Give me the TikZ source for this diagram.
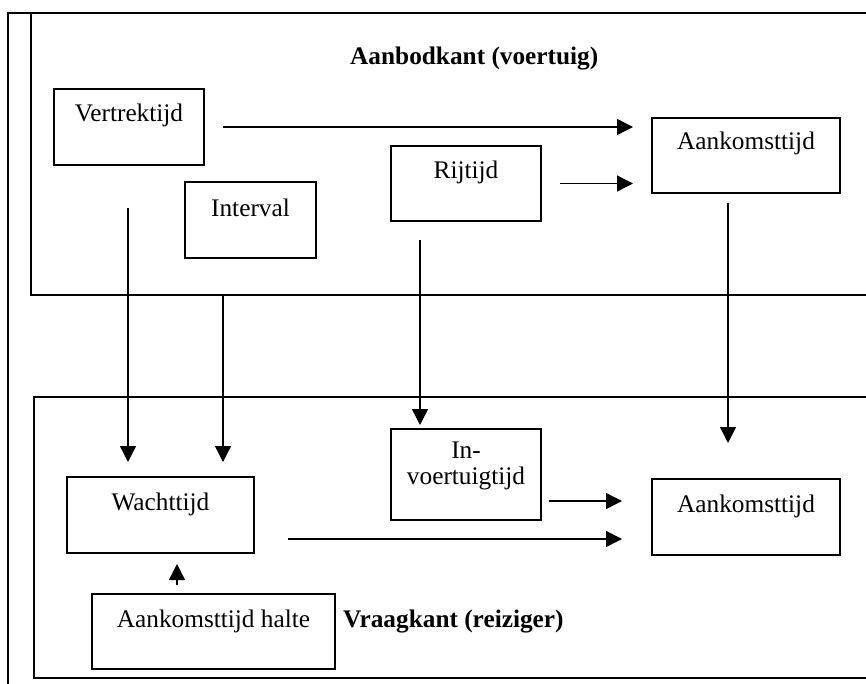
\documentclass[tikz,border=0pt]{standalone}
\usepackage{fontspec}
\setmainfont{Liberation Serif}
\usetikzlibrary{arrows.meta,calc}
\begin{document}
\begin{tikzpicture}[x=1pt,y=-1pt,
  every node/.style={font=\fontsize{25.3pt}{26pt}\selectfont},
  bx/.style={draw, line width=2pt, inner sep=0pt, text height=33pt},
  arr/.style={line width=1.4pt, -{Triangle[length=16pt,width=16pt]}},
  frame/.style={line width=1.8pt}]
\useasboundingbox (0,0) rectangle (866,684);
% frames
\draw[line width=2.2pt] (8,684) -- (8,13) -- (866,13);
\draw[frame] (31,13) -- (31,295) -- (866,295);
\draw[frame] (866,397) -- (34,397) -- (34,678) -- (866,678);
% headings
\node[anchor=base west, inner sep=0pt, font=\fontsize{25.3pt}{26pt}\selectfont\bfseries] (t1) at (350,65) {Aanbodkant (voertuig)};
\node[anchor=base west, inner sep=0pt, font=\fontsize{25.3pt}{26pt}\selectfont\bfseries] (t2) at (343,627) {Vraagkant (reiziger)};
% boxes
\node[bx, minimum width=150pt, text depth=43pt] (v) at (129,127) {Vertrektijd};
\node[bx, minimum width=131pt, text depth=42pt, text height=34pt] (iv) at (250.5,220.5) {Interval};
\node[bx, minimum width=150pt, text depth=42pt] (r) at (466,183.5) {Rijtijd};
\node[bx, minimum width=188pt, text depth=43pt, text height=32pt] (a1) at (746,155.5) {Aankomsttijd};
\node[bx, minimum width=187pt, text depth=43pt] (w) at (160.5,515) {Wachttijd};
\node[bx, minimum width=150pt, text height=55pt, text depth=36pt, align=center] (ivt) at (466,474.5) {In-\\voertuigtijd};
\node[bx, minimum width=188pt, text depth=43pt] (a2) at (746,517) {Aankomsttijd};
\node[bx, minimum width=243pt, text depth=42pt] (h) at (213.5,631.5) {Aankomsttijd halte};
\coordinate (ub) at (223,295);
% connectors
\draw[arr] ($(v.east)+(18,0)$) -- ($(v.east -| a1.west)+(-18,0)$);
\draw[arr] ($(r.east)+(18,0)$) -- ($(r.east -| a1.west)+(-18,0)$);
\draw[arr] ($(v.south)+(-1,42)$) -- ($(w.north -| v.south)+(-1,-14)$);
\draw[arr] (ub) -- ($(ub |- w.north)+(0,-14)$);
\draw[arr] ($(r.south)+(-46,18)$) -- ($(ivt.north)+(-46,-3)$);
\draw[arr] ($(a1.south)+(-18,9)$) -- ($(a2.north)+(-18,-35)$);
\draw[arr] ($(ivt.east)+(7,26.5)$) -- ($(a2.west |- ivt.east)+(-29,26.5)$);
\draw[arr] ($(w.east)+(33,24)$) -- ($(a2.west |- w.east)+(-29,24)$);
\draw[arr] ($(h.north)+(-36.5,-8)$) -- ($(w.south -| h.north)+(-36.5,10)$);
\end{tikzpicture}
\end{document}
